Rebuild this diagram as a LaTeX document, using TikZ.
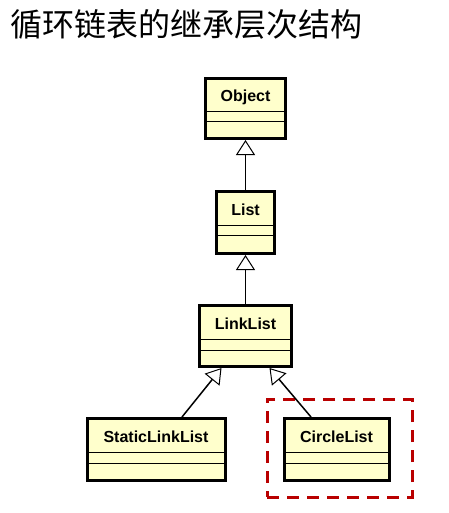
\documentclass[tikz,border=0pt]{standalone}
\usepackage{fontspec}
\setmainfont{Liberation Sans}
\newfontfamily\cjk{Noto Sans CJK SC}
\usetikzlibrary{arrows.meta,calc}
\definecolor{umlfill}{RGB}{255,255,204}
\definecolor{hlred}{RGB}{185,0,0}
\tikzset{
  umlbox/.style={draw=black, line width=3pt, fill=umlfill, inner sep=0pt, anchor=north},
  umlname/.style={font=\bfseries\fontsize{16}{18}\selectfont, inner sep=0pt, anchor=base},
  sepline/.style={line width=1pt},
  inh/.style={line width=1.5pt, -{Triangle[open,length=15pt,width=19pt,line width=1pt,fill=white]}},
  hlbox/.style={draw=hlred, line width=3pt, dash pattern=on 12pt off 8pt}
}
\begin{document}
\begin{tikzpicture}[x=1pt,y=-1pt]
\useasboundingbox[fill=white] (0,0) rectangle (448,513);
\node[font=\cjk\fontsize{32}{35}\selectfont, anchor=base west, inner sep=0pt] (title) at (10,37) {循环链表的继承层次结构};

% Object
\node[umlbox, minimum width=80pt, minimum height=60pt] (obj) at (245.5,77) {};
\node[umlname] (objn) at (245.5,102) {Object};
\draw[sepline] (205.5,112) -- (285.5,112);
\draw[sepline] (205.5,122) -- (285.5,122);

% List
\node[umlbox, minimum width=58pt, minimum height=62pt] (list) at (245.5,190) {};
\node[umlname] (listn) at (245.5,215) {List};
\draw[sepline] (216.5,225) -- (274.5,225);
\draw[sepline] (216.5,235) -- (274.5,235);

% LinkList
\node[umlbox, minimum width=92pt, minimum height=61pt] (link) at (245.5,304) {};
\node[umlname] (linkn) at (245.5,329) {LinkList};
\draw[sepline] (199.5,339) -- (291.5,339);
\draw[sepline] (199.5,350) -- (291.5,350);

% StaticLinkList
\node[umlbox, minimum width=138pt, minimum height=62pt] (static) at (156,417) {};
\node[umlname] (staticn) at (156,442) {StaticLinkList};
\draw[sepline] (87,452) -- (225,452);
\draw[sepline] (87,463) -- (225,463);

% CircleList
\node[umlbox, minimum width=105pt, minimum height=62pt] (circ) at (336.5,417) {};
\node[umlname] (circn) at (336.5,442) {CircleList};
\draw[sepline] (284,452) -- (389,452);
\draw[sepline] (284,463) -- (389,463);

% highlight
\node[hlbox, minimum width=145pt, minimum height=98pt, inner sep=0pt] (hl) at (339.5,448) {};

% inheritance
\draw[inh] (list.north) -- (obj.south);
\draw[inh] (link.north) -- (list.south);
\draw[inh] ($(static.north)+(26,0)$) -- ($(link.south)+(-24,0)$);
\draw[inh] ($(circ.north)+(-25.5,0)$) -- ($(link.south)+(24,0)$);
\end{tikzpicture}
\end{document}
